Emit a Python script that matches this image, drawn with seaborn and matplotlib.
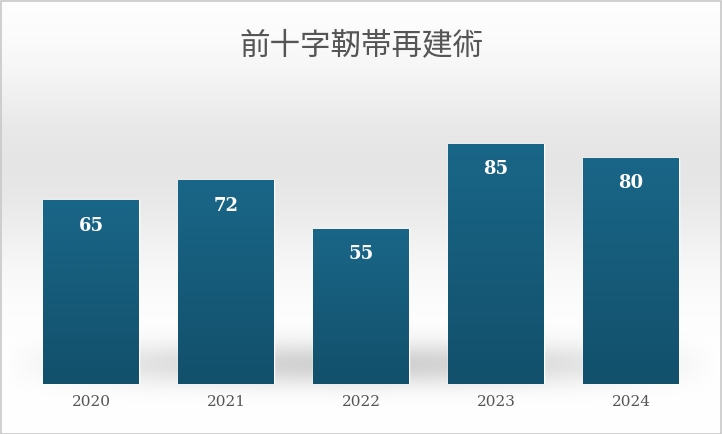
import numpy as np
import matplotlib
matplotlib.use("Agg")
import matplotlib.pyplot as plt
import seaborn as sns
import pandas as pd

title = "前十字靭帯再建術"
years = ["2020", "2021", "2022", "2023", "2024"]
values = [65, 72, 55, 85, 80]

sns.set_theme(style="white")
plt.rcParams['font.family'] = ['Noto Sans CJK JP', 'DejaVu Sans']

W, H = 722, 434
fig = plt.figure(figsize=(W/100, H/100), dpi=100)

# background gradient
bg = fig.add_axes([0, 0, 1, 1], zorder=0)
yy = np.linspace(0, 1, 300)[:, None]
g = 1 - 0.10*np.exp(-((yy-0.62)/0.22)**2)
g = np.clip(g, 0, 1)
img = np.dstack([g, g, g])
bg.imshow(img, aspect='auto', extent=[0, 1, 0, 1], origin='lower')
# soft shadow band behind bars
xx = np.linspace(0, 1, 400)[None, :]
yy2 = np.linspace(0, 1, 200)[:, None]
sh = 0.18*np.exp(-((yy2-0.16)/0.05)**2) * np.clip(np.sin(np.pi*(xx*1.0)) , 0, 1)
shimg = np.zeros((200, 400, 4)); shimg[..., 3] = sh
bg.imshow(shimg, aspect='auto', extent=[0, 1, 0, 1], origin='lower')
bg.set_xlim(0, 1); bg.set_ylim(0, 1); bg.axis('off')
bg.add_patch(plt.Rectangle((0.001, 0.001), 0.998, 0.997, fill=False, ec='#c8c8c8', lw=1.2))

ax = fig.add_axes([23.5/W, 50/H, 675/W, 294/H], zorder=1)
ax.patch.set_alpha(0)
df = pd.DataFrame({"year": years, "value": values})
sns.barplot(data=df, x="year", y="value", color="#17607f", width=0.71, ax=ax, saturation=1)
ax.set_ylim(0, 104)
ax.set_xlim(-0.5, len(years)-0.5)

grad = np.linspace(0, 1, 100)[:, None]
top = np.array([0x1a, 0x66, 0x88])/255; bot = np.array([0x12, 0x50, 0x6b])/255
gimg = bot + (top-bot)*grad
gimg = np.repeat(gimg[:, None, :], 2, axis=1)
for p, v in zip(ax.patches, values):
    x0, w = p.get_x(), p.get_width()
    im = ax.imshow(gimg, aspect='auto', extent=[x0, x0+w, 0, v], origin='lower', zorder=2)
    im.set_clip_path(p)
    ax.text(x0+w/2, v-9, str(v), ha='center', va='center', color='white',
            fontsize=13, fontweight='bold', family='DejaVu Serif', zorder=3)
ax.set_xlim(-0.5, len(years)-0.5)
ax.set_ylim(0, 104)
ax.set_xlabel(""); ax.set_ylabel("")
ax.set_yticks([])
for s in ax.spines.values():
    s.set_visible(False)
ax.tick_params(axis='x', length=0, pad=8)
for t in ax.get_xticklabels():
    t.set_family('DejaVu Serif'); t.set_color('#555555'); t.set_fontsize(11)

fig.text(0.5, 1-46/H, title, ha='center', va='center', fontsize=22, color='#555555')
fig.savefig("out.png", dpi=100)
